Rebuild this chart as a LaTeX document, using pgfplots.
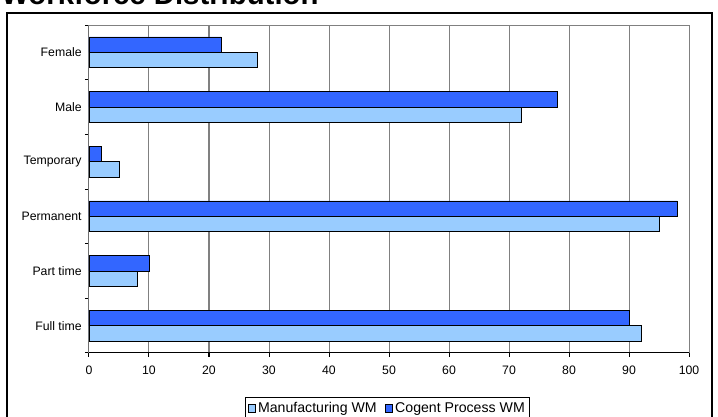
\documentclass[border=0pt]{standalone}
\usepackage{fontspec}
\setmainfont{Liberation Sans}
\usepackage{pgfplots}
\pgfplotsset{compat=1.18}
\definecolor{lightb}{RGB}{153,204,255}
\definecolor{darkb}{RGB}{51,102,255}
\begin{document}
\begin{tikzpicture}[x=1pt,y=1pt]
\useasboundingbox (-66.75,-48) rectangle (471.75,264.75);
\node[anchor=base west, font=\fontsize{22}{26}\selectfont\bfseries, inner sep=0pt] at (-66,261) {Workforce Distribution};
\draw[black, line width=0.9pt] (-61.5,-50.25) rectangle (467.25,255);
\begin{axis}[
  at={(0,0)}, anchor=south west,
  width=450pt, height=246pt, scale only axis,
  xmin=0, xmax=100, ymin=-0.5, ymax=5.5,
  xbar, bar width=11.6pt,
  xtick={0,10,...,100},
  ytick={-0.5,0.5,1.5,2.5,3.5,4.5,5.5},
  yticklabels={},
  extra y ticks={0,1,2,3,4,5},
  extra y tick labels={Full time,Part time,Permanent,Temporary,Male,Female},
  extra y tick style={major tick length=0pt},
  xtick pos=bottom, ytick pos=left,
  tick align=outside, major tick length=3pt,
  tick style={black, line width=0.75pt},
  xmajorgrids, grid style={gray, line width=0.75pt},
  axis line style={draw=gray, line width=0.75pt},
  /pgf/number format/assume math mode=true,
  tick label style={font=\fontsize{9.2}{11}\selectfont},
  yticklabel style={xshift=-2pt},
  xticklabel style={yshift=-3pt},
  legend columns=2,
  legend style={at={(0.4975,0)}, anchor=north, yshift=-33pt, draw=black, line width=0.75pt,
    font=\fontsize{10.6}{12.5}\selectfont, inner sep=1.5pt,
    /tikz/every even column/.append style={column sep=4pt}},
]
\addplot[fill=lightb, draw=black, line width=0.5pt, bar shift=-5.8pt,
  legend image code/.code={\draw[fill=lightb,draw=black,line width=0.5pt] (0pt,-2.7pt) rectangle (5.4pt,2.7pt);}]
  coordinates {(92,0) (8,1) (95,2) (5,3) (72,4) (28,5)};
\addlegendentry{Manufacturing WM}
\addplot[fill=darkb, draw=black, line width=0.5pt, bar shift=5.8pt,
  legend image code/.code={\draw[fill=darkb,draw=black,line width=0.5pt] (0pt,-2.7pt) rectangle (5.4pt,2.7pt);}]
  coordinates {(90,0) (10,1) (98,2) (2,3) (78,4) (22,5)};
\addlegendentry{Cogent Process WM}
\draw[black, line width=0.75pt] (rel axis cs:0,1) -- (rel axis cs:0,0) -- (rel axis cs:1,0);
\end{axis}
\end{tikzpicture}
\end{document}
